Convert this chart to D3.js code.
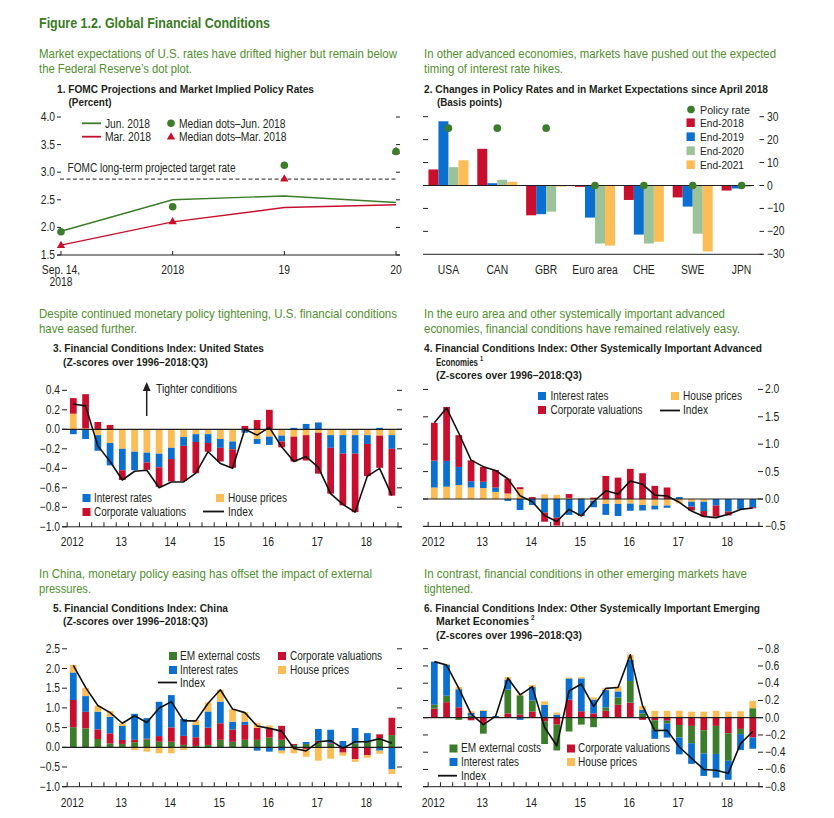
<!DOCTYPE html>
<html><head><meta charset="utf-8">
<script src="https://cdn.jsdelivr.net/npm/d3@7"></script>
<style>
body{margin:0;background:#fff;}
text{font-family:"Liberation Sans", Arial, sans-serif;}
</style></head><body>
<svg id="c" width="834" height="818"></svg>
<script>
// ---------- Panel 1 data ----------
const p1Cats = ["Sep14", "2018", "19", "20"];
const p1Labels = [["Sep. 14,", "2018"], ["2018"], ["19"], ["20"]];
const p1Jun = [1.93, 2.50, 2.57, 2.45];
const p1Mar = [1.68, 2.10, 2.36, 2.41];
const p1DotsJun = [1.92, 2.375, 3.125, 3.375];
const p1DotsMar = [1.67, 2.10, 2.875, 3.375];
const p1LongRun = 2.875;
const p1YTicks = [1.5, 2.0, 2.5, 3.0, 3.5, 4.0];

// ---------- Panel 2 data ----------
const p2Cats = ["USA", "CAN", "GBR", "Euro area", "CHE", "SWE", "JPN"];
const p2End2018 = [7, 16, -13, -0.6, -6.3, -5.2, -2.2];
const p2End2019 = [28, 1, -12.5, -14, -21.4, -9.2, -1.3];
const p2End2020 = [8, 2.5, -11.4, -25.3, -25.3, -21, -0.5];
const p2End2021 = [11, 1.6, -0.5, -26.2, -24.5, -28.8, 0];
const p2Policy = [25, 25, 25, 0, 0, 0, 0];
const p2YTicks = [30, 20, 10, 0, -10, -20, -30];

// ---------- Quarterly categories (panels 3-6) ----------
const quarters = ["2012Q1","2012Q2","2012Q3","2012Q4","2013Q1","2013Q2","2013Q3","2013Q4",
  "2014Q1","2014Q2","2014Q3","2014Q4","2015Q1","2015Q2","2015Q3","2015Q4",
  "2016Q1","2016Q2","2016Q3","2016Q4","2017Q1","2017Q2","2017Q3","2017Q4",
  "2018Q1","2018Q2","2018Q3"];
const yearTickQuarters = ["2012Q1","2013Q1","2014Q1","2015Q1","2016Q1","2017Q1","2018Q1"];
const yearLabels = ["2012", "13", "14", "15", "16", "17", "18"];

// ---------- Panel 3: United States ----------
const p3House = [0.16,0.01,-0.06,-0.14,-0.20,-0.23,-0.24,-0.25,-0.19,-0.08,-0.05,-0.05,-0.10,-0.125,0,-0.10,-0.075,-0.065,-0.075,-0.06,-0.035,-0.06,-0.06,-0.06,-0.06,-0.065,-0.06];
const p3Interest = [-0.05,-0.10,-0.16,-0.23,-0.22,-0.19,-0.10,-0.14,-0.115,-0.09,-0.08,-0.09,-0.09,-0.08,-0.035,-0.05,-0.085,-0.06,0.015,0.055,0.07,-0.13,-0.19,-0.19,-0.09,0.015,-0.14];
const p3Corp = [0.16,0.35,0.075,0.045,-0.10,0,-0.075,-0.20,-0.23,-0.36,-0.32,-0.09,-0.14,-0.19,0.035,0.095,0.20,-0.06,-0.255,-0.26,-0.42,-0.47,-0.53,-0.60,-0.33,-0.33,-0.48];
const p3Index = [0.26,0.24,-0.17,-0.33,-0.52,-0.43,-0.42,-0.60,-0.54,-0.54,-0.45,-0.23,-0.35,-0.40,0.0,-0.06,0.02,-0.18,-0.33,-0.28,-0.39,-0.66,-0.77,-0.85,-0.48,-0.40,-0.68];
const p3YTicks = [0.4,0.2,0,-0.2,-0.4,-0.6,-0.8,-1.0];

// ---------- Panel 4: Other advanced ----------
const p4House = [0.21,0.225,0.255,0.21,0.20,0.13,0.10,0.18,0,0.085,0.075,0.02,0.02,-0.03,-0.09,-0.09,-0.085,-0.11,-0.12,-0.12,-0.08,-0.05,-0.05,0,0,0,0];
const p4Interest = [0.49,0.47,0.33,0.115,0.115,0.08,-0.035,-0.20,-0.11,-0.25,-0.34,-0.29,-0.29,-0.12,-0.20,-0.22,-0.13,-0.10,-0.07,-0.04,0.035,-0.09,-0.17,-0.12,-0.23,-0.19,-0.15];
const p4Corp = [0.69,0.985,0.58,0.38,0.27,0.32,0.27,0.035,0.035,-0.165,-0.145,0.07,-0.02,0.025,0.42,0.39,0.55,0.47,0.24,0.21,0,-0.07,-0.10,-0.20,-0.07,0,-0.02];
const p4Index = [1.39,1.66,1.20,0.71,0.59,0.52,0.37,0.06,-0.05,-0.30,-0.41,-0.19,-0.31,-0.05,0.15,0.09,0.33,0.27,0.07,0.055,-0.06,-0.22,-0.32,-0.34,-0.28,-0.19,-0.165];
const p4YTicks = [2.0,1.5,1.0,0.5,0,-0.5];

// ---------- Panel 5: China ----------
const p5Ext = [0.51,0.48,0.21,0.10,0.085,0.13,0.20,0.14,0.14,0.06,0.035,0.06,0.19,0.14,0.19,0.19,0.245,0.19,0.06,0.085,0.13,0.085,0,0.10,0.14,0.23,0.31];
const p5Corp = [0.69,0.42,0.245,0.255,0.10,0.06,0.02,0.145,0.365,0.23,0.22,0.44,0.42,0.31,0.38,0.30,0.24,0.355,0.025,-0.04,0.035,0.02,-0.135,-0.30,-0.195,0.10,0.44];
const p5Interest = [0.70,0.40,0.45,0.42,0.355,0.66,0.52,0.87,0.82,0.43,0.31,0.41,0.55,0.20,0.08,-0.085,-0.11,-0.085,0,0.05,0.30,0.34,0.16,0.39,0.22,-0.085,-0.56];
const p5House = [0.19,0.21,0.15,0.145,0.07,-0.07,-0.11,-0.15,-0.15,-0.07,0.13,0.23,0.30,0.32,0.24,0.13,0.07,-0.07,-0.15,-0.20,-0.34,-0.29,-0.08,-0.07,-0.07,-0.08,-0.12];
const p5Index = [2.08,1.52,1.06,0.88,0.61,0.80,0.63,0.99,1.16,0.67,0.67,1.12,1.46,0.97,0.88,0.54,0.48,0.41,-0.03,-0.09,0.14,0.17,-0.025,0.14,0.14,0.22,0.10];
const p5YTicks = [2.5,2.0,1.5,1.0,0.5,0,-0.5,-1.0];

// ---------- Panel 6: Other emerging ----------
const p6Corp = [0.105,0.18,0.12,-0.03,-0.07,0,0.05,0.035,0.07,-0.045,-0.08,0.21,0.075,0.05,0.08,0.15,0.175,-0.025,-0.03,-0.035,-0.085,-0.095,-0.145,-0.095,-0.18,-0.13,-0.23];
const p6Ext = [0.045,0.075,-0.025,0.025,-0.115,0,0.275,0.225,0.13,-0.26,-0.30,-0.16,-0.08,-0.11,0.04,0.085,0.25,0.05,-0.11,-0.03,-0.145,-0.20,-0.27,-0.325,-0.32,-0.06,0.11];
const p6Interest = [0.50,0.36,0.21,0.03,0.08,0.02,0.115,-0.025,0.155,0.15,0.035,0.245,0.38,0.16,0.20,0.07,0.245,0.04,-0.105,-0.165,-0.195,-0.24,-0.26,-0.275,-0.22,-0.185,-0.13];
const p6House = [0,0.01,0.025,0.02,0.01,0,0.03,0.01,0.025,0.04,0.025,0.01,0.015,0.025,0.025,0.06,0.06,0.045,0.08,0.08,0.08,0.07,0.07,0.08,0.07,0.075,0.085];
const p6Index = [0.65,0.61,0.34,0.045,-0.08,0.015,0.46,0.265,0.36,-0.11,-0.325,0.31,0.39,0.13,0.34,0.35,0.73,0.14,-0.15,-0.145,-0.34,-0.47,-0.60,-0.61,-0.645,-0.30,-0.16];
const p6YTicks = [0.8,0.6,0.4,0.2,0,-0.2,-0.4,-0.6,-0.8];

// ---------- Drawing ----------
const C = {blue:"#0b6fcf", red:"#c8102e", orange:"#fdbd56", green:"#3b7d2a", lgreen:"#9cc29a",
           ink:"#231f20", title:"#3a7b26", sub:"#528f30"};
const svg = d3.select("#c");
const fmt1 = d3.format(".1f");

function txt(g, x, y, s, o = {}) {
  const t = g.append("text").attr("x", x).attr("y", y).text(s)
    .attr("font-size", o.size || 12).attr("fill", o.fill || C.ink)
    .attr("text-anchor", o.anchor || "start");
  if (o.bold) t.attr("font-weight", "bold");
  if (o.w) t.attr("data-w", o.w);
  return t;
}
function hline(g, x1, x2, y, w = 1) {
  g.append("line").attr("x1", x1).attr("x2", x2).attr("y1", y).attr("y2", y)
    .attr("stroke", C.ink).attr("stroke-width", w);
}
function vline(g, x, y1, y2, w = 1) {
  g.append("line").attr("x1", x).attr("x2", x).attr("y1", y1).attr("y2", y2)
    .attr("stroke", C.ink).attr("stroke-width", w);
}
function sq(g, x, y, col) {
  g.append("rect").attr("x", x).attr("y", y).attr("width", 8).attr("height", 8).attr("fill", col);
}

// Headings
const H = svg.append("g");
txt(H, 39, 27.5, "Figure 1.2. Global Financial Conditions", {size:14, bold:true, fill:C.title, w:231});
txt(H, 39, 57.5, "Market expectations of U.S. rates have drifted higher but remain below", {size:13, fill:C.sub, w:358});
txt(H, 39, 72.5, "the Federal Reserve\u2019s dot plot.", {size:13, fill:C.sub, w:153});
txt(H, 424, 57.5, "In other advanced economies, markets have pushed out the expected", {size:13, fill:C.sub, w:352});
txt(H, 424, 72.5, "timing of interest rate hikes.", {size:13, fill:C.sub, w:139});
txt(H, 57, 93, "1. FOMC Projections and Market Implied Policy Rates", {size:11, bold:true, w:257});
txt(H, 68.5, 105.5, "(Percent)", {size:11, bold:true, w:43});
txt(H, 424, 93, "2. Changes in Policy Rates and in Market Expectations since April 2018", {size:11, bold:true, w:344});
txt(H, 437, 105.5, "(Basis points)", {size:11, bold:true, w:65});

txt(H, 39, 317.5, "Despite continued monetary policy tightening, U.S. financial conditions", {size:13, fill:C.sub, w:358});
txt(H, 39, 332.5, "have eased further.", {size:13, fill:C.sub, w:98});
txt(H, 424, 317.5, "In the euro area and other systemically important advanced", {size:13, fill:C.sub, w:301});
txt(H, 424, 332.5, "economies, financial conditions have remained relatively easy.", {size:13, fill:C.sub, w:316});
txt(H, 53, 352, "3. Financial Conditions Index: United States", {size:11, bold:true, w:211});
txt(H, 63, 365.5, "(Z-scores over 1996\u20132018:Q3)", {size:11, bold:true, w:145});
txt(H, 424, 352, "4. Financial Conditions Index: Other Systemically Important Advanced", {size:11, bold:true, w:338});
txt(H, 436, 365.5, "Economies", {size:11, bold:true, w:42});
txt(H, 480, 360.5, "1", {size:7, bold:true, w:3.2});
txt(H, 436, 379, "(Z-scores over 1996\u20132018:Q3)", {size:11, bold:true, w:146});

txt(H, 39, 577.5, "In China, monetary policy easing has offset the impact of external", {size:13, fill:C.sub, w:333});
txt(H, 39, 592.5, "pressures.", {size:13, fill:C.sub, w:52});
txt(H, 424, 577.5, "In contrast, financial conditions in other emerging markets have", {size:13, fill:C.sub, w:323});
txt(H, 424, 592.5, "tightened.", {size:13, fill:C.sub, w:49});
txt(H, 53, 611.5, "5. Financial Conditions Index: China", {size:11, bold:true, w:175});
txt(H, 63, 625, "(Z-scores over 1996\u20132018:Q3)", {size:11, bold:true, w:145});
txt(H, 424, 611.5, "6. Financial Conditions Index: Other Systemically Important Emerging", {size:11, bold:true, w:336});
txt(H, 436, 625, "Market Economies", {size:11, bold:true, w:93});
txt(H, 531, 620, "2", {size:7, bold:true, w:3.5});
txt(H, 436, 639, "(Z-scores over 1996\u20132018:Q3)", {size:11, bold:true, w:146});

// ---------- Panel 1 ----------
(function(){
  const g = svg.append("g");
  const y = d3.scaleLinear().domain([1.5, 4.0]).range([255, 117]);
  const x = d3.scalePoint().domain(p1Cats).range([61, 396]);
  hline(g, 57, 400, y(1.5));
  p1YTicks.forEach(v => {
    hline(g, 57, 61, y(v)); hline(g, 396, 400, y(v));
    txt(g, 55, y(v) + 4, fmt1(v), {anchor:"end"});
  });
  p1Cats.forEach((c, i) => {
    vline(g, x(c), y(1.5), y(1.5) - 4);
    p1Labels[i].forEach((s, j) => txt(g, x(c), 273.5 + j * 12.5, s, {anchor:"middle"}));
  });
  g.append("line").attr("x1", 60).attr("x2", 398).attr("y1", y(p1LongRun)).attr("y2", y(p1LongRun))
    .attr("stroke", C.ink).attr("stroke-width", 1).attr("stroke-dasharray", "4,2.5");
  txt(g, 67.5, 172, "FOMC long-term projected target rate", {w:168});
  const line = d3.line().x((d, i) => x(p1Cats[i])).y(d => y(d));
  g.append("path").datum(p1Mar).attr("d", line).attr("fill", "none").attr("stroke", C.red).attr("stroke-width", 1.4);
  g.append("path").datum(p1Jun).attr("d", line).attr("fill", "none").attr("stroke", C.green).attr("stroke-width", 1.4);
  const tri = d3.symbol(d3.symbolTriangle).size(30);
  g.selectAll(".tri").data(p1DotsMar).join("path").attr("d", tri)
    .attr("transform", (d, i) => `translate(${x(p1Cats[i])},${y(d)})`).attr("fill", C.red);
  g.selectAll(".dot").data(p1DotsJun).join("circle").attr("cx", (d, i) => x(p1Cats[i])).attr("cy", d => y(d))
    .attr("r", 3.8).attr("fill", C.green);
  // legend
  g.append("line").attr("x1", 82).attr("x2", 101).attr("y1", 123.3).attr("y2", 123.3).attr("stroke", C.green).attr("stroke-width", 1.8);
  txt(g, 105, 127.5, "Jun. 2018", {w:45});
  g.append("line").attr("x1", 82).attr("x2", 101).attr("y1", 136.7).attr("y2", 136.7).attr("stroke", C.red).attr("stroke-width", 1.8);
  txt(g, 105, 141, "Mar. 2018", {w:46});
  g.append("circle").attr("cx", 171).attr("cy", 123.3).attr("r", 3.8).attr("fill", C.green);
  txt(g, 179, 127.5, "Median dots\u2013Jun. 2018", {w:106.5});
  g.append("path").attr("d", tri).attr("transform", "translate(171,137)").attr("fill", C.red);
  txt(g, 179, 141, "Median dots\u2013Mar. 2018", {w:107.5});
})();

// ---------- Panel 2 ----------
(function(){
  const g = svg.append("g");
  const y = d3.scaleLinear().domain([-30, 30]).range([254.3, 116.7]);
  const x = d3.scaleBand().domain(p2Cats).range([424, 766]);
  const keys = ["e18", "e19", "e20", "e21"];
  const vals = {e18:p2End2018, e19:p2End2019, e20:p2End2020, e21:p2End2021};
  const cols = {e18:C.red, e19:C.blue, e20:C.lgreen, e21:C.orange};
  const sub = d3.scaleBand().domain(keys).range([-20, 20]);
  keys.forEach(k => {
    g.append("g").attr("fill", cols[k]).selectAll("rect").data(vals[k]).join("rect")
      .attr("x", (d, i) => x(p2Cats[i]) + x.bandwidth() / 2 + sub(k)).attr("width", sub.bandwidth())
      .attr("y", d => y(Math.max(0, d))).attr("height", d => Math.abs(y(d) - y(0)));
  });
  hline(g, 423, 754, y(0));
  hline(g, 423, 763, y(-30));
  p2YTicks.forEach(v => {
    hline(g, 759.5, 764, y(v));
    if (v !== 0 && v !== -30) hline(g, 423, 428, y(v));
    txt(g, 767, y(v) + 4, d3.format("d")(v));
  });
  p2Cats.forEach(c => txt(g, x(c) + x.bandwidth() / 2, 273.5, c, {anchor:"middle"}));
  g.selectAll(".pd").data(p2Policy).join("circle")
    .attr("cx", (d, i) => x(p2Cats[i]) + x.bandwidth() / 2).attr("cy", d => y(d)).attr("r", 3.8).attr("fill", C.green);
  // legend
  g.append("circle").attr("cx", 691).attr("cy", 109.5).attr("r", 3.8).attr("fill", C.green);
  txt(g, 700, 113.5, "Policy rate", {w:50, size:11.5});
  const leg = [["End-2018", C.red], ["End-2019", C.blue], ["End-2020", C.lgreen], ["End-2021", C.orange]];
  leg.forEach((l, i) => {
    const cy = 122.7 + i * 14;
    g.append("rect").attr("x", 686.5).attr("y", cy - 4.3).attr("width", 8.3).attr("height", 8.6).attr("fill", l[1]);
    txt(g, 700, cy + 4.2, l[0], {w:44, size:11.5});
  });
})();

// ---------- FCI panels ----------
function fciPanel(cfg) {
  const g = svg.append("g");
  const x = d3.scaleBand().domain(quarters).range(cfg.xr).paddingInner(0.45).paddingOuter(0.225);
  const y = d3.scaleLinear().domain(cfg.yd).range(cfg.yr);
  const rows = quarters.map((q, i) => { const r = {q}; cfg.keys.forEach(k => r[k] = cfg.series[k][i]); return r; });
  const layers = d3.stack().keys(cfg.keys).offset(d3.stackOffsetDiverging)(rows);
  layers.forEach(layer => {
    g.append("g").attr("fill", cfg.colors[layer.key]).selectAll("rect").data(layer).join("rect")
      .attr("x", d => x(d.data.q)).attr("width", x.bandwidth())
      .attr("y", d => y(Math.max(d[0], d[1]))).attr("height", d => Math.abs(y(d[0]) - y(d[1])));
  });
  const [L, R] = cfg.axisX;
  const bottom = y(cfg.yd[0]);
  hline(g, L, R, y(0), 1.2);
  hline(g, L, R, bottom);
  const step = x.step(), bw = x.bandwidth();
  const bounds = quarters.map(q => x(q) + bw / 2 - step / 2).concat([x(quarters[quarters.length - 1]) + bw / 2 + step / 2]);
  bounds.forEach(b => vline(g, b, bottom, bottom - 4.5));
  cfg.ticks.forEach(v => {
    hline(g, L, L + 5, y(v)); hline(g, R - 5, R, y(v));
    if (cfg.labelSide === "left") txt(g, L - 2, y(v) + 4, fmt1(v), {anchor:"end"});
    else txt(g, R + 2, y(v) + 4, fmt1(v));
  });
  yearTickQuarters.forEach((q, i) => txt(g, x(q) + bw / 2 - 1, cfg.yearY, yearLabels[i], {anchor:"middle"}));
  g.append("path").datum(cfg.index)
    .attr("d", d3.line().x((d, i) => x(quarters[i]) + bw / 2).y(d => y(d)))
    .attr("fill", "none").attr("stroke", "#111").attr("stroke-width", 1.6).attr("stroke-linejoin", "round");
  return g;
}
function legendLine(g, x1, x2, yy) {
  g.append("line").attr("x1", x1).attr("x2", x2).attr("y1", yy).attr("y2", yy).attr("stroke", "#111").attr("stroke-width", 1.8);
}

// Panel 3
(function(){
  const g = fciPanel({xr:[67.2, 398], yd:[-1.0, 0.4], yr:[526.8, 390.3], axisX:[62, 402],
    keys:["house", "interest", "corp"], series:{house:p3House, interest:p3Interest, corp:p3Corp},
    colors:{house:C.orange, interest:C.blue, corp:C.red}, index:p3Index, ticks:p3YTicks, labelSide:"left", yearY:546});
  vline(g, 146.7, 416, 389, 1.5);
  g.append("path").attr("d", "M146.7,382 L142.8,391 L150.6,391 Z").attr("fill", C.ink);
  txt(g, 156, 392.5, "Tighter conditions", {w:81});
  sq(g, 82.5, 494, C.blue); txt(g, 94, 501.5, "Interest rates", {w:58});
  sq(g, 82.5, 508, C.red); txt(g, 94, 515.5, "Corporate valuations", {w:92});
  sq(g, 216, 494, C.orange); txt(g, 228, 501.5, "House prices", {w:59});
  legendLine(g, 203, 224, 511.5); txt(g, 228, 515.5, "Index", {w:25});
})();

// Panel 4
(function(){
  const g = fciPanel({xr:[428.2, 758.9], yd:[-0.5, 2.0], yr:[526.4, 389.4], axisX:[423, 763],
    keys:["house", "interest", "corp"], series:{house:p4House, interest:p4Interest, corp:p4Corp},
    colors:{house:C.orange, interest:C.blue, corp:C.red}, index:p4Index, ticks:p4YTicks, labelSide:"right", yearY:546});
  sq(g, 538, 392, C.blue); txt(g, 550.5, 399.5, "Interest rates", {w:58});
  sq(g, 538, 406, C.red); txt(g, 550.5, 413.5, "Corporate valuations", {w:92});
  sq(g, 671, 392, C.orange); txt(g, 683, 399.5, "House prices", {w:59});
  legendLine(g, 660, 680, 410.5); txt(g, 683, 413.5, "Index", {w:25});
})();

// Panel 5
(function(){
  const g = fciPanel({xr:[67.2, 398], yd:[-1.0, 2.5], yr:[786.7, 648.8], axisX:[62, 402],
    keys:["ext", "corp", "interest", "house"], series:{ext:p5Ext, corp:p5Corp, interest:p5Interest, house:p5House},
    colors:{ext:C.green, corp:C.red, interest:C.blue, house:C.orange}, index:p5Index, ticks:p5YTicks, labelSide:"left", yearY:807});
  sq(g, 169, 652, C.green); txt(g, 180, 659.5, "EM external costs", {w:80});
  sq(g, 169, 666, C.blue); txt(g, 180, 673.5, "Interest rates", {w:58});
  legendLine(g, 158, 177, 682.5); txt(g, 180, 686.5, "Index", {w:25});
  sq(g, 278, 652, C.red); txt(g, 290, 659.5, "Corporate valuations", {w:92});
  sq(g, 278, 666, C.orange); txt(g, 290, 673.5, "House prices", {w:59});
})();

// Panel 6
(function(){
  const g = fciPanel({xr:[428.2, 758.9], yd:[-0.8, 0.8], yr:[786.7, 648.7], axisX:[423, 763],
    keys:["corp", "ext", "interest", "house"], series:{corp:p6Corp, ext:p6Ext, interest:p6Interest, house:p6House},
    colors:{ext:C.green, corp:C.red, interest:C.blue, house:C.orange}, index:p6Index, ticks:p6YTicks, labelSide:"right", yearY:807});
  sq(g, 449.5, 744.5, C.green); txt(g, 461, 752, "EM external costs", {w:80});
  sq(g, 449.5, 758, C.blue); txt(g, 461, 765.5, "Interest rates", {w:58});
  legendLine(g, 438, 457, 775.7); txt(g, 461, 779.5, "Index", {w:25});
  sq(g, 567, 744.5, C.red); txt(g, 578, 752, "Corporate valuations", {w:92});
  sq(g, 567, 758, C.orange); txt(g, 578, 765.5, "House prices", {w:59});
})();

// Condense text to match the narrow typeface of the original
svg.selectAll("text").each(function(){
  const w = this.getAttribute("data-w");
  const len = this.getComputedTextLength();
  const target = w ? +w : len * 0.86;
  this.setAttribute("textLength", target);
  this.setAttribute("lengthAdjust", "spacingAndGlyphs");
});
</script>
</body></html>
